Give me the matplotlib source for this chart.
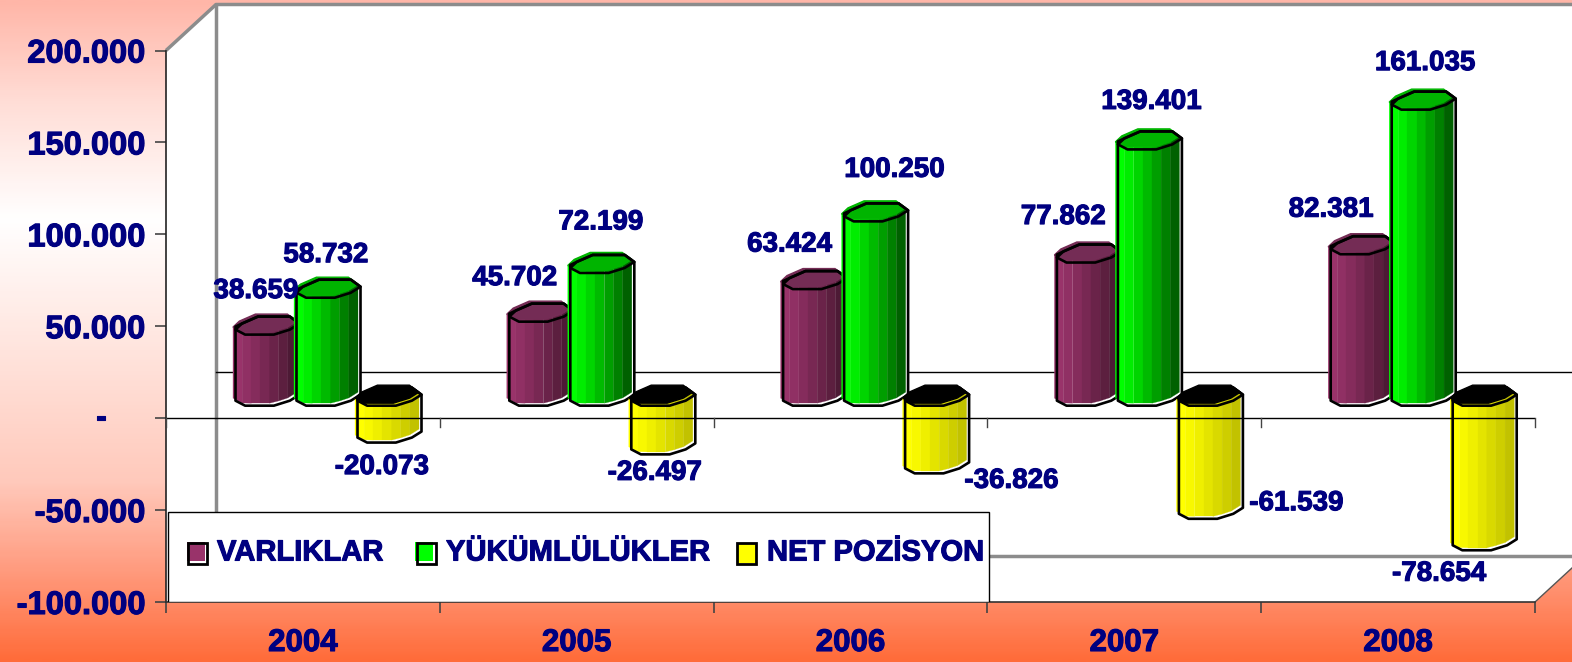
import numpy as np
import matplotlib
matplotlib.use("Agg")
import matplotlib.pyplot as plt
import matplotlib.patheffects as pe
from matplotlib.colors import LinearSegmentedColormap, to_rgb
from matplotlib.patches import Polygon, Rectangle

# data
years = ["2004", "2005", "2006", "2007", "2008"]
varliklar = [38659, 45702, 63424, 77862, 82381]
yukumluluk = [58732, 72199, 100250, 139401, 161035]
net_pozisyon = [-20073, -26497, -36826, -61539, -78654]
series_names = ["VARLIKLAR", "YÜKÜMLÜLÜKLER", "NET POZİSYON"]
y_ticks = [-100000, -50000, 0, 50000, 100000, 150000, 200000]
y_labels = ["-100.000", "-50.000", "", "50.000", "100.000", "150.000", "200.000"]

# label offsets from the end of each column, in pixels
label_offsets = [
    [(-9, -41), (-24, -41), (-23, -42), (-23, -43), (-29, -42)],
    [(0, -40), (1, -48), (21, -49), (4, -45), (4, -44)],
    [(-5, 27), (-6, 21), (77, 10), (88, -13), (-43, 26)],
]

W, H = 1572, 662
NAVY = "#000080"
LEFT, RIGHT, TOP, BOTTOM = 166, 1535, 50.5, 602
DX, DY = 50, 46  # depth of the 3d box
plt.rcParams["font.family"] = ["Liberation Sans", "DejaVu Sans"]
plt.rcParams["font.weight"] = "bold"
heavy = [pe.withStroke(linewidth=0.8, foreground=NAVY)]

fig = plt.figure(figsize=(W / 100, H / 100), dpi=100)

# background gradient
bg = fig.add_axes([0, 0, 1, 1], zorder=0)
cmap = LinearSegmentedColormap.from_list(
    "bg", [(0, "#ffb6a8"), (0.15, "#ffddd6"), (0.33, "#ffffff"),
           (0.73, "#ffc9bb"), (0.86, "#ff9c80"), (1, "#ff6c3a")])
bg.imshow(np.linspace(0, 1, 300)[:, None], cmap=cmap, aspect="auto", extent=[0, W, H, 0])
bg.set_xlim(0, W)
bg.set_ylim(H, 0)
bg.axis("off")

ax = fig.add_axes([LEFT / W, 1 - BOTTOM / H, (RIGHT - LEFT) / W, (BOTTOM - TOP) / H], zorder=1)
ax.set_xlim(-0.5, 4.5)
ax.set_ylim(-100000, 200000)
ax.patch.set_alpha(0)
for s in ["top", "right"]:
    ax.spines[s].set_visible(False)
ax.spines["left"].set_color("#222222")
ax.spines["left"].set_linewidth(1.2)
ax.spines["bottom"].set_color("#333333")
ax.spines["bottom"].set_linewidth(1.2)

px_x = 5 / (RIGHT - LEFT)
px_y = 300000 / (BOTTOM - TOP)
dxd, dyd = DX * px_x, DY * px_y

# walls and floor of the 3d box
ax.add_patch(Polygon([(-0.5, -100000), (4.5, -100000), (4.5 + dxd, -100000 + dyd),
                      (4.5 + dxd, 200000 + dyd), (-0.5 + dxd, 200000 + dyd), (-0.5, 200000)],
                     fc="white", ec="none", clip_on=False, zorder=1))
ax.plot([-0.5, -0.5 + dxd, 4.5 + dxd], [200000, 200000 + dyd, 200000 + dyd], color="#8c8c8c", lw=2.5,
        clip_on=False, zorder=2, solid_capstyle="butt")
ax.plot([-0.5 + dxd, -0.5 + dxd, 4.5 + dxd], [200000 + dyd, -100000 + dyd, -100000 + dyd], color="#8c8c8c",
        lw=2.5, clip_on=False, zorder=2)
ax.plot([4.5, 4.5 + dxd], [-100000, -100000 + dyd], color="#555555", lw=1, clip_on=False, zorder=2)
ax.plot([-0.5 + dxd, 4.5 + dxd], [dyd, dyd], color="black", lw=1, clip_on=False, zorder=2)

# column cross section, t across the width and pixels below the back edge
front_profile = [(0, 13), (0.15, 18), (0.6, 18), (0.85, 13), (1, 7)]
back_profile = [(1, 7), (0.85, 0), (0.35, 0), (0.1, 7), (0, 10)]
CAP = 18
BAR_W = 64 * px_x
BAR_STEP = 61 * px_x
BAR_LEFT = 67 * px_x
BASE = 15 * px_y
OUT_X, OUT_Y = 2.5 * px_x, 2.5 * px_y  # outline sits a little off the fill
LW = 1.9


def shade(col, t, dark):
    c = np.array(to_rgb(col))
    return tuple(c * (1.0 - (1.0 - dark) * t))


def column(x0, value, col, cap_col, dark, z):
    y_end = value + BASE
    y_top = max(BASE, y_end)
    y_bot = min(BASE, y_end)
    front_low = [(x0 + t * BAR_W, y_bot - (p - CAP) * px_y) for t, p in front_profile]
    front_up = [(x0 + t * BAR_W, y_top - (p - CAP) * px_y) for t, p in front_profile]
    back_up = [(x0 + t * BAR_W, y_top - (p - CAP) * px_y) for t, p in back_profile]

    # white under everything, shows as a thin light edge at the bottom and right
    sil = [(x + OUT_X, y - OUT_Y) for x, y in front_low + back_up]
    ax.add_patch(Polygon(sil, fc="white", ec="none", clip_on=False, zorder=z))

    # body in stepped bands
    ts = [p[0] for p in front_profile]
    offs = [(p[1] - CAP) * px_y for p in front_profile]
    edges = np.linspace(0, 1, 8)
    for k in range(7):
        t0, t1 = edges[k], edges[k + 1]
        o0, o1 = np.interp(t0, ts, offs), np.interp(t1, ts, offs)
        x_a, x_b = x0 + t0 * BAR_W, x0 + t1 * BAR_W
        poly = [(x_a, y_bot - o0), (x_b, y_bot - o1), (x_b, y_top - o1), (x_a, y_top - o0)]
        tone = shade(col, (k / 6) ** 1.2, dark)
        ax.add_patch(Polygon(poly, fc=tone, ec=tone, lw=0.2, clip_on=False, zorder=z + 0.01))

    # cap
    cap = front_up + back_up[1:-1]
    ax.add_patch(Polygon(cap, fc=cap_col, ec=cap_col, lw=1, clip_on=False, zorder=z + 0.02))

    # black outlines on top
    ax.add_patch(Polygon(sil, fc="none", ec="black", lw=LW, clip_on=False, zorder=z + 0.03, joinstyle="round"))
    ax.add_patch(Polygon([(x + OUT_X, y - OUT_Y) for x, y in cap], fc="none", ec="black", lw=LW,
                         clip_on=False, zorder=z + 0.04, joinstyle="round"))


colors = ["#99336a", "#00ff00", "#ffff00"]
caps = ["#742c55", "#00b400", "#000000"]
darks = [0.5, 0.38, 0.76]
all_values = [varliklar, yukumluluk, net_pozisyon]

for i, year in enumerate(years):
    for j, vals in enumerate(all_values):
        x0 = i - 0.5 + BAR_LEFT + j * BAR_STEP
        column(x0, vals[i], colors[j], caps[j], darks[j], 3 + i * 0.1 + j * 0.2)
        v = vals[i]
        ox, oy = label_offsets[j][i]
        ax.annotate(f"{v:,}".replace(",", "."), (x0 + BAR_W / 2, v + BASE), xytext=(ox, -oy),
                    textcoords="offset pixels", ha="center", va="center", color=NAVY, fontsize=20,
                    annotation_clip=False, zorder=12, path_effects=heavy)

# zero line in front of the columns
ax.axhline(0, color="black", lw=1, zorder=8)
for i in range(6):
    ax.plot([i - 0.5, i - 0.5], [0, -9 * px_y], color="#444444", lw=1, zorder=8, clip_on=False)

ax.set_yticks(y_ticks, y_labels, color=NAVY, fontsize=23.5, path_effects=heavy)
ax.set_xticks(np.arange(-0.5, 5), [""] * 6)
ax.tick_params(axis="y", length=8, width=1.2, color="#444444", pad=7)
ax.tick_params(axis="x", length=8, width=1.2, color="#444444")
# the zero label sits further left than the others
ax.annotate("-", (-0.5, 0), xytext=(-65, 0), textcoords="offset pixels", ha="center", va="center",
            color=NAVY, fontsize=23.5, annotation_clip=False, path_effects=heavy)
for i, year in enumerate(years):
    ax.annotate(year, (i, -100000), xytext=(0, -41), textcoords="offset pixels", ha="center", va="center",
                color=NAVY, fontsize=22.5, annotation_clip=False, path_effects=heavy)

# legend box, drawn by hand so the layout stays close to the original
leg_x, leg_w = (168 - LEFT) * px_x - 0.5, 821 * px_x
leg_y = -100000
leg_h = 90 * px_y
ax.add_patch(Rectangle((leg_x, leg_y), leg_w, leg_h, fc="white", ec="black", lw=1, zorder=9))
leg_marks = [188, 417, 737]
leg_text = [217, 446, 767]
leg_shift = [(-1, 3), (-2, 3), (1, 1)]
for name, col, mx, tx, sh in zip(series_names, colors, leg_marks, leg_text, leg_shift):
    mx_d = (mx - LEFT) * px_x - 0.5
    tx_d = (tx - LEFT) * px_x - 0.5
    ym = leg_y + (602 - 552.5) * px_y
    box_y = ym - 11 * px_y - 1.5 * px_y + 1.5 * px_y
    ax.add_patch(Rectangle((mx_d, box_y), 19 * px_x, 21 * px_y, fc="white", ec="none", zorder=9.5))
    ax.add_patch(Rectangle((mx_d + sh[0] * px_x, box_y + sh[1] * px_y), 18 * px_x, 19 * px_y, fc=col,
                           ec="none", zorder=10))
    ax.add_patch(Rectangle((mx_d, box_y), 19 * px_x, 21 * px_y, fc="none", ec="black", lw=2, zorder=10.1))
    ax.text(tx_d, ym, name, color=NAVY, fontsize=21, va="center", ha="left", zorder=10, path_effects=heavy)

fig.savefig("out.png", dpi=100)
